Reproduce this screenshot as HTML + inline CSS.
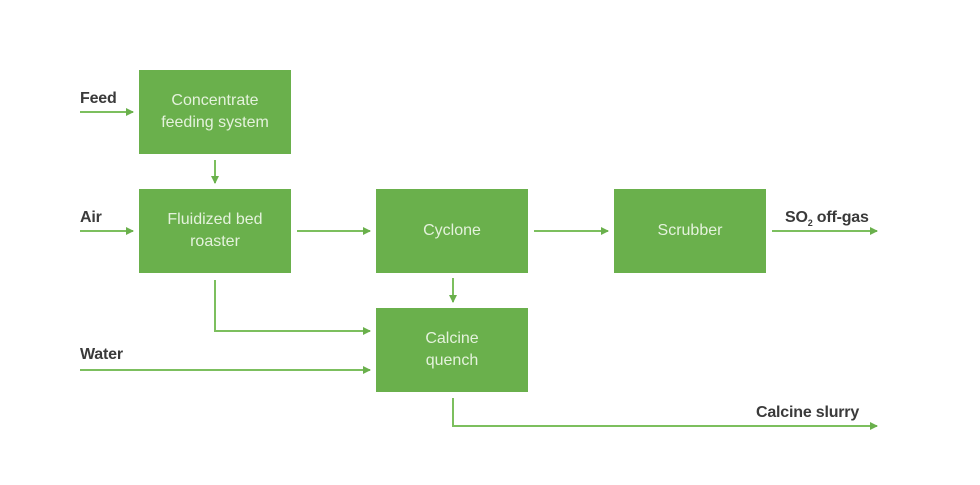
<!DOCTYPE html>
<html><head><style>
body{margin:0;background:#fff;width:980px;height:485px;overflow:hidden;font-family:"Liberation Sans",sans-serif}
.b{position:absolute;background:#6ab04c;color:#e4f2dc;font-size:16px;text-align:center;display:flex;align-items:center;justify-content:center;line-height:22px;width:152px;height:84px}
.l{position:absolute;font-size:16px;color:#3a3a3a;font-weight:600;letter-spacing:-0.2px}
</style></head><body>
<svg width="980" height="485" style="position:absolute;left:0;top:0">
<defs><marker id="a" markerWidth="8" markerHeight="8" refX="7" refY="4" orient="auto" markerUnits="userSpaceOnUse"><path d="M0,0 L8,4 L0,8z" fill="#6ab04c"/></marker></defs>
<g stroke="#7cbf5e" stroke-width="2" fill="none" marker-end="url(#a)">
<path d="M80,112H133"/>
<path d="M80,231H133"/>
<path d="M215,160V183"/>
<path d="M297,231H370"/>
<path d="M534,231H608"/>
<path d="M772,231H877"/>
<path d="M453,278V302"/>
<path d="M215,280V331H370"/>
<path d="M80,370H370"/>
<path d="M453,398V426H877"/>
</g></svg>
<div class="b" style="left:139px;top:70px">Concentrate<br>feeding system</div>
<div class="b" style="left:139px;top:189px">Fluidized bed<br>roaster</div>
<div class="b" style="left:376px;top:189px">Cyclone</div>
<div class="b" style="left:614px;top:189px">Scrubber</div>
<div class="b" style="left:376px;top:308px">Calcine<br>quench</div>
<div class="l" style="left:80px;top:90px">Feed</div>
<div class="l" style="left:80px;top:209px">Air</div>
<div class="l" style="left:80px;top:346px">Water</div>
<div class="l" style="left:785px;top:209px">SO<sub style="font-size:9px">2</sub> off-gas</div>
<div class="l" style="left:756px;top:404px">Calcine slurry</div>
</body></html>
